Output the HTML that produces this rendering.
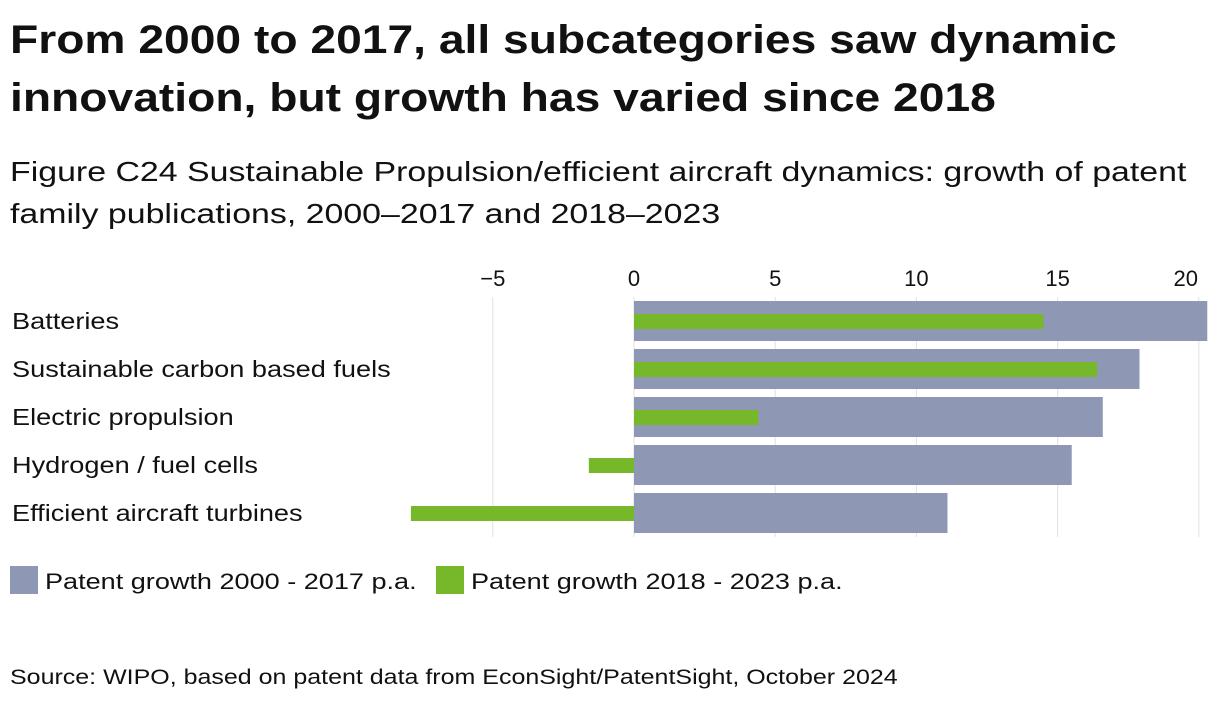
<!DOCTYPE html>
<html><head><meta charset="utf-8"><style>
body{margin:0;width:1220px;height:708px;background:#fff;font-family:"Liberation Sans",sans-serif;color:#111;position:relative;overflow:hidden}
.l{position:absolute;left:10px;white-space:nowrap;transform-origin:0 0}
</style></head><body>
<div class="l" style="top:18px;font-size:40px;font-weight:bold;transform:scaleX(1.155)">From 2000 to 2017, all subcategories saw dynamic</div>
<div class="l" style="top:76px;font-size:40px;font-weight:bold;transform:scaleX(1.155)">innovation, but growth has varied since 2018</div>
<div class="l" style="top:156px;font-size:28px;transform:scaleX(1.21)">Figure C24 Sustainable Propulsion/efficient aircraft dynamics: growth of patent</div>
<div class="l" style="top:198px;font-size:28px;transform:scaleX(1.21)">family publications, 2000–2017 and 2018–2023</div>
<svg id="c" width="1220" height="708" style="position:absolute;left:0;top:0"></svg>
<div class="l" style="top:666px;font-size:21px;transform:scaleX(1.19)">Source: WIPO, based on patent data from EconSight/PatentSight, October 2024</div>
<script>
const categories=["Batteries","Sustainable carbon based fuels","Electric propulsion","Hydrogen / fuel cells","Efficient aircraft turbines"];
const growth2000=[20.3,17.9,16.6,15.5,11.1];
const growth2018=[14.5,16.4,4.4,-1.6,-7.9];
const ticks=[-5,0,5,10,15,20];
const tickLabels=["−5","0","5","10","15","20"];
const svg=document.getElementById('c');const NS="http://www.w3.org/2000/svg";
const x=v=>634+v*28.24;const rowY=i=>301+i*48;
function mk(t,a){const e=document.createElementNS(NS,t);for(const k in a)e.setAttribute(k,a[k]);svg.appendChild(e);return e;}
ticks.forEach((v,i)=>{
const g=mk('line',{x1:x(v),x2:x(v),y1:297,y2:537,stroke:'#e2e2e2','stroke-width':1});


const t=mk('text',{x:v===20?x(v)-13:x(v),y:286,'text-anchor':'middle','font-size':22,fill:'#111'});
t.textContent=tickLabels[i];


});
categories.forEach((c,i)=>{
const y=rowY(i);
const l=mk('text',{x:12,y:y+28,'font-size':23,fill:'#111'});l.textContent=c;


svg.appendChild(l);
l.setAttribute('textLength',(l.getComputedTextLength()*1.18).toFixed(1));
l.setAttribute('lengthAdjust','spacingAndGlyphs');
const a=growth2000[i];
const r=mk('rect',{x:Math.min(x(0),x(a)),y:y,width:Math.abs(x(a)-x(0)),height:40,fill:'#8e97b3'});


const b=growth2018[i];
const r2=mk('rect',{x:Math.min(x(0),x(b)),y:y+13,width:Math.abs(x(b)-x(0)),height:15,fill:'#76b82a'});


});
const lg=[["#8e97b3","Patent growth 2000 - 2017 p.a.",10],["#76b82a","Patent growth 2018 - 2023 p.a.",436]];
lg.forEach(([col,txt,lx])=>{
const r=mk('rect',{x:lx,y:566,width:28,height:28,fill:col});


const t=mk('text',{x:lx+35,y:589,'font-size':22,fill:'#111'});t.textContent=txt;


t.setAttribute('textLength',(t.getComputedTextLength()*1.23).toFixed(1));
t.setAttribute('lengthAdjust','spacingAndGlyphs');
});
</script>
</body></html>
